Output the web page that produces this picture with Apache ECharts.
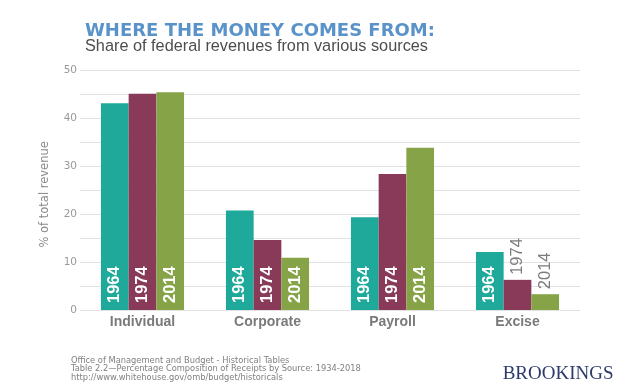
<!DOCTYPE html>
<html>
<head>
<meta charset="utf-8">
<script src="https://cdn.jsdelivr.net/npm/echarts@6/dist/echarts.min.js"></script>
<style>html,body{margin:0;padding:0;background:#fff}#chart{width:640px;height:388px}</style>
</head>
<body>
<div id="chart"></div>
<script>
const categories = ['Individual', 'Corporate', 'Payroll', 'Excise'];
const years = ['1964', '1974', '2014'];
const values1964 = [43.2, 20.8, 19.4, 12.1];
const values1974 = [45.2, 14.6, 28.4, 6.3];
const values2014 = [45.5, 10.9, 33.9, 3.3];
const yTicks = [0, 10, 20, 30, 40, 50];

const colors = ['#1fa99b', '#893a59', '#86a348'];
const seriesValues = [values1964, values1974, values2014];

const insideLabel = {
  show: true, position: 'insideBottom', distance: 7, rotate: 90,
  align: 'left', verticalAlign: 'middle',
  color: '#fff', fontFamily: 'Liberation Sans', fontWeight: 'bold', fontSize: 16.5
};
const outsideLabel = {
  show: true, position: 'top', distance: 5, rotate: 90,
  align: 'left', verticalAlign: 'middle',
  color: '#7c7c7c', fontFamily: 'Liberation Sans', fontWeight: 'normal', fontSize: 16.5
};

const series = seriesValues.map((vals, i) => ({
  name: years[i],
  type: 'bar',
  barWidth: 27.7,
  barGap: '0%',
  itemStyle: { color: colors[i] },
  label: Object.assign({}, insideLabel, { formatter: years[i] }),
  data: vals.map(v => v < 8
    ? { value: v, label: Object.assign({}, outsideLabel, { formatter: years[i] }) }
    : v)
}));

const chart = echarts.init(document.getElementById('chart'), null, { renderer: 'canvas' });
chart.setOption({
  animation: false,
  backgroundColor: '#fff',
  title: [
    { text: 'WHERE THE MONEY COMES FROM:', left: 80, top: 17,
      textStyle: { fontFamily: 'DejaVu Sans', fontWeight: 'bold', fontSize: 18, color: '#5a93c9' } },
    { text: 'Share of federal revenues from various sources', left: 80, top: 34,
      textStyle: { fontFamily: 'Liberation Sans', fontWeight: 'normal', fontSize: 16.3, color: '#4d4d4d' } }
  ],
  grid: { left: 80, right: 60, top: 70.7, bottom: 78, containLabel: false },
  xAxis: {
    type: 'category', data: categories,
    axisLine: { show: false }, axisTick: { show: false },
    axisLabel: { margin: 5, fontFamily: 'Liberation Sans', fontWeight: 'bold', fontSize: 14, color: '#7a7a7a' }
  },
  yAxis: {
    type: 'value', min: 0, max: 50, interval: 5,
    name: '% of total revenue', nameLocation: 'middle', nameGap: 29, nameRotate: 90,
    nameTextStyle: { fontFamily: 'DejaVu Sans', fontSize: 11.5, color: '#8a8a8a', padding: [0, 8, 0, 0] },
    axisLine: { show: false }, axisTick: { show: false },
    axisLabel: { margin: 3, fontFamily: 'DejaVu Sans', fontSize: 10.5, color: '#999',
      formatter: v => yTicks.indexOf(v) >= 0 ? String(v) : '' },
    splitLine: { show: true, lineStyle: { color: '#e2e2e2', width: 1 } }
  },
  series: series,
  graphic: [
    { type: 'text', x: 71, y: 360.7, style: { text: 'Office of Management and Budget - Historical Tables', font: '8.3px "DejaVu Sans"', fill: '#808080', textVerticalAlign: 'middle', verticalAlign: 'middle' } },
    { type: 'text', x: 71, y: 369.2, style: { text: 'Table 2.2\u2014Percentage Composition of Receipts by Source: 1934-2018', font: '8.3px "DejaVu Sans"', fill: '#808080', textVerticalAlign: 'middle', verticalAlign: 'middle' } },
    { type: 'text', x: 71, y: 377.7, style: { text: 'http://www.whitehouse.gov/omb/budget/historicals', font: '8.3px "DejaVu Sans"', fill: '#808080', textVerticalAlign: 'middle', verticalAlign: 'middle' } },
    { type: 'text', x: 502.7, y: 374, style: { text: 'BROOKINGS', font: '19px "Liberation Serif"', fill: '#2b3a6b', textVerticalAlign: 'middle', verticalAlign: 'middle' } }
  ]
});
</script>
</body>
</html>
